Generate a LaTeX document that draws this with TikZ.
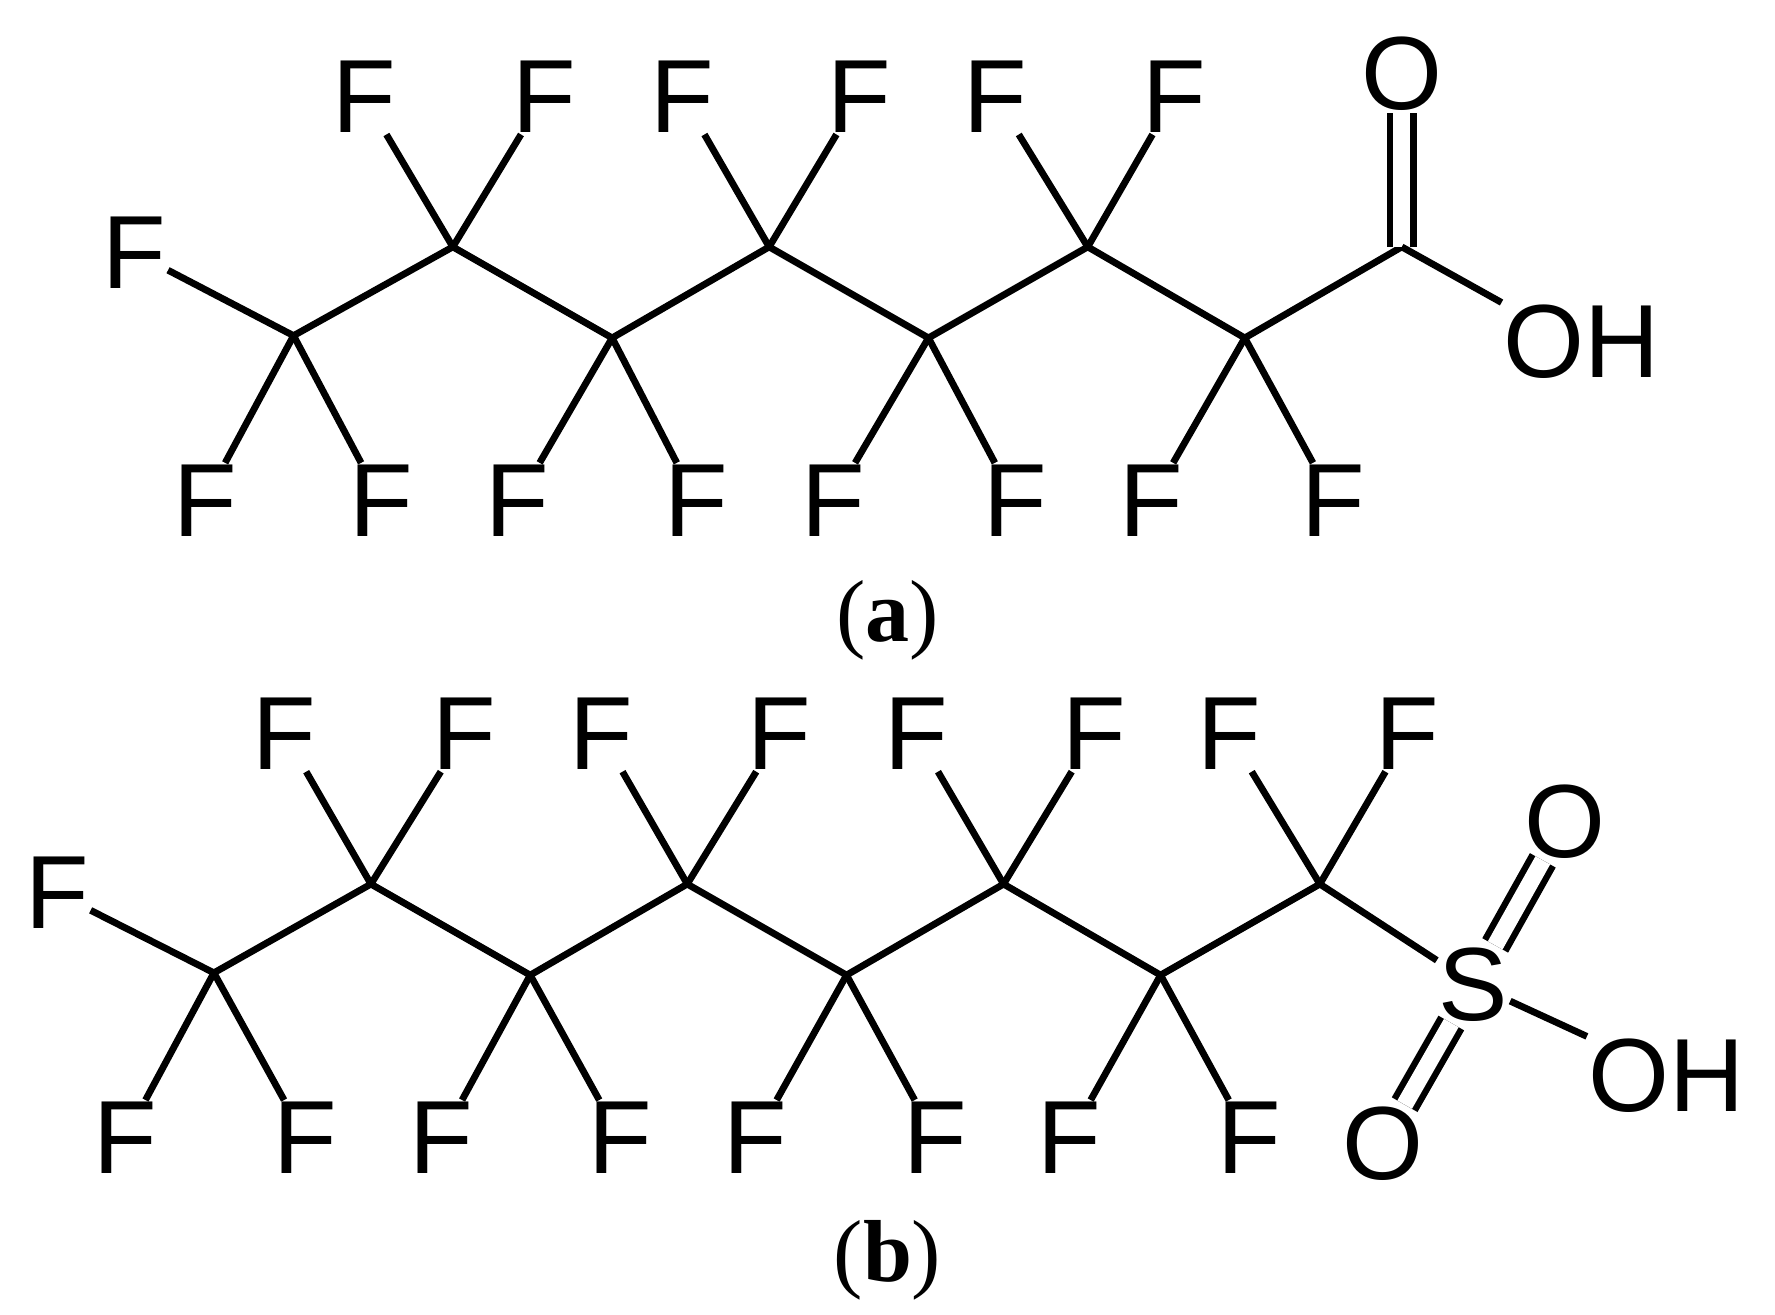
\documentclass[tikz,border=0pt]{standalone}
\usepackage{fontspec}
\setmainfont{Liberation Sans}
\newfontfamily\capfont{Liberation Serif}
\begin{document}
\begin{tikzpicture}[x=0.01cm,y=-0.01cm,
  atom/.style={font=\fontsize{26}{30}\selectfont,inner sep=0.3pt},
  bond/.style={line width=1.7pt},
  dbl/.style={line width=1.6pt,double,double distance=4.2pt},
  captext/.style={font=\capfont\fontsize{22}{26}\selectfont}]
\useasboundingbox (0,0) rectangle (1560,1155);
% (a)
\foreach \i/\x/\y in {1/258/295,2/398/217,3/538/297,4/676/217,5/816/297,6/956/217,7/1094/297,8/1232/217}
  \coordinate (a\i) at (\x,\y);
\draw[bond,line join=round] (a1)--(a2)--(a3)--(a4)--(a5)--(a6)--(a7)--(a8);
\node[atom] (aF0) at (118,222) {F};
\draw[bond] (a1)--(aF0);
\foreach \c/\xa/\xb in {1/180/335,3/455/612,5/732/892,7/1012/1172}{
  \node[atom] (aD\c l) at (\xa,440) {F};
  \node[atom] (aD\c r) at (\xb,440) {F};
  \draw[bond] (a\c)--(aD\c l); \draw[bond] (a\c)--(aD\c r);}
\foreach \c/\xa/\xb in {2/320/478,4/600/755,6/875/1032}{
  \node[atom] (aU\c l) at (\xa,85) {F};
  \node[atom] (aU\c r) at (\xb,85) {F};
  \draw[bond] (a\c)--(aU\c l); \draw[bond] (a\c)--(aU\c r);}
\node[atom] (aO) at (1232,65) {O};
\node[atom] (aOH) at (1390,300) {OH};
\draw[dbl] (a8)--(aO);
\draw[bond] (a8)--(aOH.north west);
\node[captext] (la) at (780,545) {(\textbf{a})};
% (b)
\foreach \i/\x/\y in {1/188/855,2/326/777,3/466/857,4/604/777,5/744/857,6/882/777,7/1020/857,8/1160/777}
  \coordinate (b\i) at (\x,\y);
\draw[bond,line join=round] (b1)--(b2)--(b3)--(b4)--(b5)--(b6)--(b7)--(b8);
\node[atom] (bF0) at (50,785) {F};
\draw[bond] (b1)--(bF0);
\foreach \c/\xa/\xb in {1/110/268,3/388/545,5/664/822,7/940/1098}{
  \node[atom] (bD\c l) at (\xa,1000) {F};
  \node[atom] (bD\c r) at (\xb,1000) {F};
  \draw[bond] (b\c)--(bD\c l); \draw[bond] (b\c)--(bD\c r);}
\foreach \c/\xa/\xb in {2/250/408,4/528/685,6/805/962,8/1080/1237}{
  \node[atom] (bU\c l) at (\xa,645) {F};
  \node[atom] (bU\c r) at (\xb,645) {F};
  \draw[bond] (b\c)--(bU\c l); \draw[bond] (b\c)--(bU\c r);}
\node[atom] (bS) at (1295,865) {S};
\node[atom] (bO1) at (1375,722) {O};
\node[atom] (bO2) at (1215,1005) {O};
\node[atom] (bOH) at (1465,945) {OH};
\draw[bond] (b8)--(bS);
\draw[dbl] (bS)--(bO1);
\draw[dbl] (bS)--(bO2);
\draw[bond] (bS)--(bOH.north west);
\node[captext] (lb) at (780,1108) {(\textbf{b})};
\end{tikzpicture}
\end{document}
